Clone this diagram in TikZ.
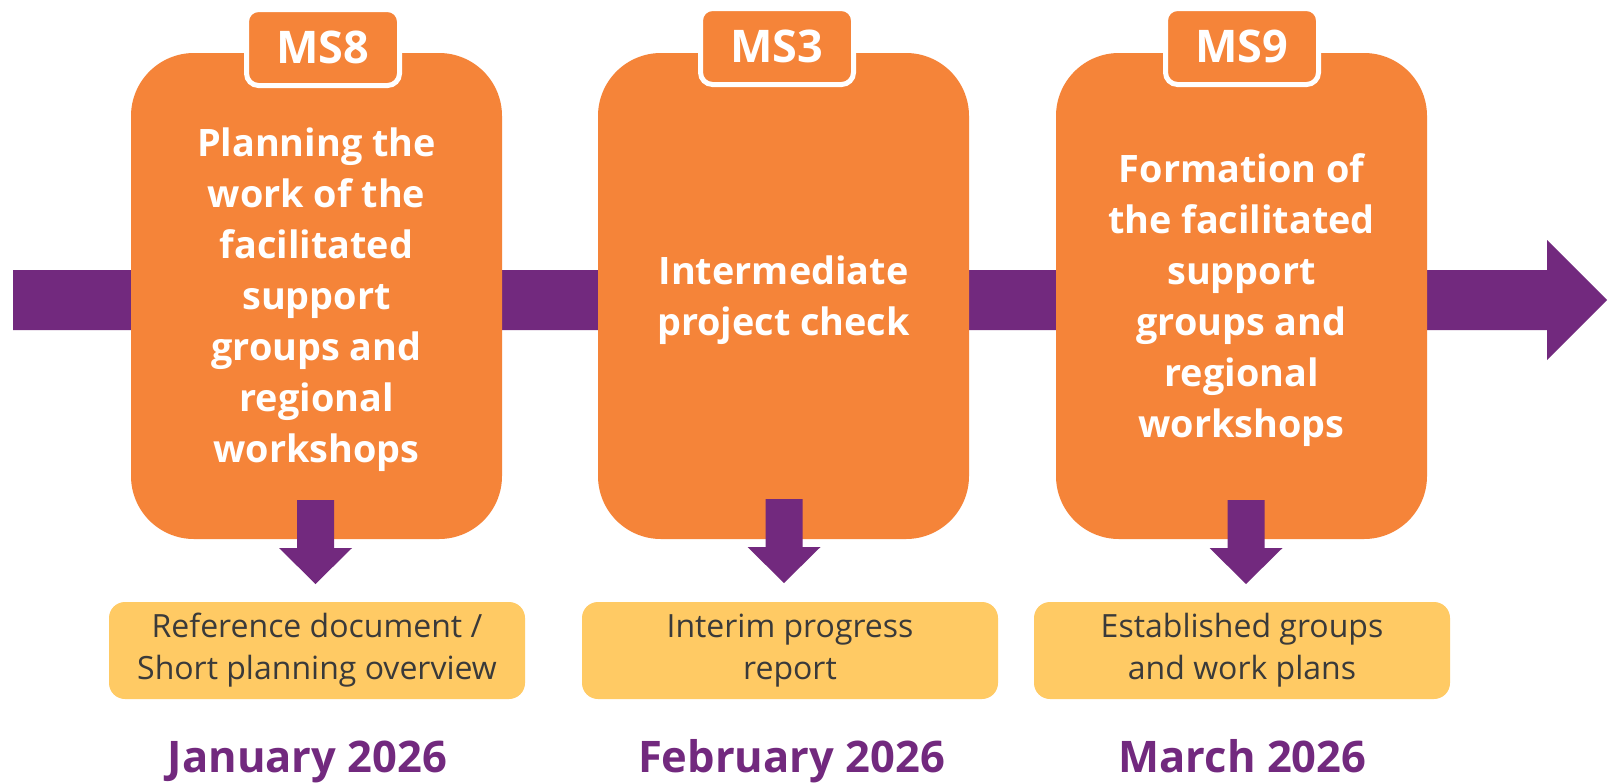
\documentclass[tikz,border=0pt]{standalone}
\usepackage{fontspec}
\setmainfont{Open Sans}
\usetikzlibrary{calc}
\definecolor{msorange}{HTML}{F58439}
\definecolor{mspurple}{HTML}{72297E}
\definecolor{msyellow}{HTML}{FFCA64}
\definecolor{mstext}{HTML}{3A3A3A}
\newcommand\msdownarrow[1]{%
  \fill[mspurple] ($(#1)+(-18.5,0)$) -- ++(37,0) -- ++(0,48) -- ++(18,0)
    -- ($(#1)+(0,84)$) -- ($(#1)+(-36.5,48)$) -- ++(18,0) -- cycle;}
\begin{document}
\begin{tikzpicture}[x=1pt,y=-1pt,
  mainbox/.style={fill=msorange, draw=none, rounded corners=63pt, minimum width=371pt, minimum height=486pt, inner sep=0pt},
  tabbox/.style={fill=msorange, draw=white, line width=5pt, rounded corners=12pt, minimum width=153pt, minimum height=76pt, inner sep=0pt, text=white, font=\fontsize{45}{50}\selectfont\bfseries},
  maintext/.style={text=white, font=\fontsize{37.8}{51}\selectfont\bfseries, align=center, inner sep=0pt},
  outbox/.style={fill=msyellow, draw=none, rounded corners=16pt, minimum width=416pt, minimum height=97pt, inner sep=0pt, text=mstext, font=\fontsize{32}{42}\selectfont, align=center},
  datetext/.style={text=mspurple, font=\fontsize{43.5}{48}\selectfont\bfseries, anchor=base, inner sep=0pt}]
\useasboundingbox (0,0) rectangle (1612,782);
\fill[white] (0,0) rectangle (1612,782);
% timeline arrow
\coordinate (tstart) at (13,300);
\coordinate (tend) at (1607,300);
\fill[mspurple] ($(tstart)+(0,-30)$) -- (1547,270) -- (1547,240) -- (tend) -- (1547,360) -- (1547,330) -- ($(tstart)+(0,30)$) -- cycle;
% milestone boxes
\node[mainbox] (b1) at (316.5,296) {};
\node[mainbox] (b2) at (783.5,296) {};
\node[mainbox] (b3) at (1241.5,296) {};
\node[tabbox] (t1) at (323,47.5) {MS8};
\node[tabbox] (t2) at (777,46.5) {MS3};
\node[tabbox] (t3) at (1242,46.5) {MS9};
\node[maintext] (l1) at (316.5,300) {Planning the\\work of the\\facilitated\\support\\groups and\\regional\\workshops};
\node[maintext] (l2) at (783.5,300) {Intermediate\\project check};
\node[maintext] (l3) at (1241.5,300) {Formation of\\the facilitated\\support\\groups and\\regional\\workshops};
% outputs
\node[outbox] (o1) at (317,650.5) {Reference document /\\Short planning overview};
\node[outbox] (o2) at (790,650.5) {Interim progress\\report};
\node[outbox] (o3) at (1242,650.5) {Established groups\\and work plans};
% down arrows
\coordinate (a1) at (315.5,500);
\coordinate (a2) at (784,499);
\coordinate (a3) at (1246,500);
\msdownarrow{a1}
\msdownarrow{a2}
\msdownarrow{a3}
% dates
\node[datetext] (d1) at (307.5,772) {January 2026};
\node[datetext] (d2) at (791.5,772) {February 2026};
\node[datetext] (d3) at (1242.5,772) {March 2026};
\end{tikzpicture}
\end{document}
